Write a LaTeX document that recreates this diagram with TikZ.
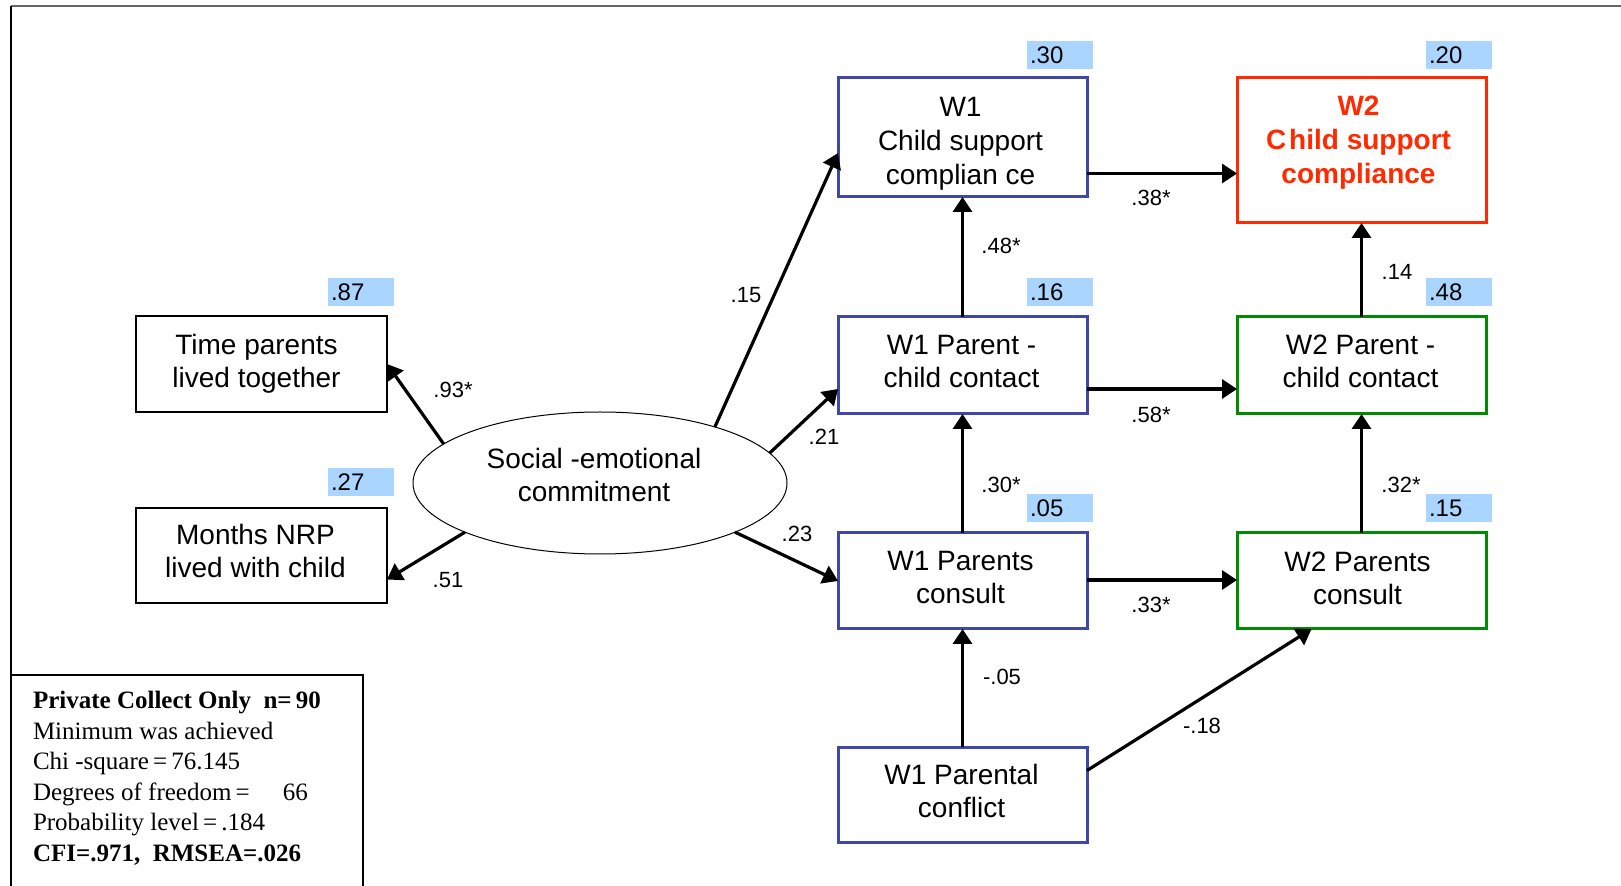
\documentclass[tikz,border=0pt]{standalone}
\usepackage{fontspec}
\setmainfont{Liberation Sans}
\newfontfamily\statfont{Liberation Serif}
\usetikzlibrary{arrows.meta,shapes.geometric,fit,calc}
\definecolor{boxblue}{HTML}{3F48A8}
\definecolor{boxred}{HTML}{FF2A00}
\definecolor{boxgreen}{HTML}{008C00}
\definecolor{rfill}{HTML}{A9D5FF}
\definecolor{framegrey}{HTML}{666666}
\begin{document}
\begin{tikzpicture}[x=0.5pt,y=-0.5pt,
  every node/.style={inner sep=0pt,outer sep=0pt},
  box/.style={draw,line width=0.7pt},
  wone/.style={box,draw=boxblue,line width=1.5pt},
  wtwo/.style={box,draw=boxgreen,line width=1.5pt},
  wred/.style={box,draw=boxred,line width=1.5pt},
  btxt/.style={align=center,font=\fontsize{14}{16.5}\selectfont},
  rtxt/.style={align=center,text=boxred,font=\fontsize{14}{17}\selectfont\bfseries},
  rsq/.style={fill=rfill,anchor=west,text width=30pt,inner xsep=1.5pt,minimum height=14pt,align=left,font=\fontsize{12}{12}\selectfont},
  coef/.style={font=\fontsize{11}{11}\selectfont},
  arr/.style={line width=1.6pt,-{Triangle[length=7.5pt,width=9.5pt]}},
  stat/.style={anchor=base west,font=\statfont\fontsize{12.5}{12.5}\selectfont}
]
\useasboundingbox (0,0) rectangle (1621,886);
% frame
\draw[framegrey,line width=1pt] (11,6) -- (1621,6);
\draw[line width=0.9pt] (11,6) -- (11,675);
\draw[line width=0.7pt] (11,886) -- (11,675) -- (363,675) -- (363,886);

% boxes
\node[box,fit={(136,316) (387,412)}] (tp) {};
\node[btxt] (tpt) at ($(tp.center)+(-5,0)$) {Time parents\\lived together};
\node[box,fit={(136,508) (387,603)}] (mn) {};
\node[btxt] (mnt) at ($(mn.center)+(-6,-5)$) {Months NRP\\lived with child};
\node[ellipse,draw,line width=0.5pt,minimum width=187pt,minimum height=71pt] (sec) at (600,483) {};
\node[btxt] (sect) at ($(sec.center)+(-6,-8)$) {Social -emotional\\commitment};

\node[wone,fit={(838,78) (1087,197)}] (csc1) {};
\node[btxt,font=\fontsize{14}{17}\selectfont] (csc1t) at ($(csc1.center)+(-2,6)$) {W1\\Child support\\complian ce};
\node[wone,fit={(838,317) (1087,414)}] (pcc1) {};
\node[btxt] (pcc1t) at ($(pcc1.center)+(-1,-4)$) {W1 Parent -\\child contact};
\node[wone,fit={(838,533) (1087,629)}] (con1) {};
\node[btxt] (con1t) at ($(con1.center)+(-2,-3)$) {W1 Parents\\consult};
\node[wone,fit={(838,747) (1087,842)}] (cfl1) {};
\node[btxt] (cfl1t) at ($(cfl1.center)+(-1,-4)$) {W1 Parental\\conflict};

\node[wred,fit={(1237,78) (1486,223)}] (csc2) {};
\node[rtxt] (csc2t) at ($(csc2.center)+(-3,-8)$) {W2\\C\kern1.5pt hild support\\compliance};
\node[wtwo,fit={(1237,317) (1486,414)}] (pcc2) {};
\node[btxt] (pcc2t) at ($(pcc2.center)+(-1,-4)$) {W2 Parent -\\child contact};
\node[wtwo,fit={(1237,533) (1486,629)}] (con2) {};
\node[btxt] (con2t) at ($(con2.center)+(-4,-3)$) {W2 Parents\\consult};

% R-squared labels
\node[rsq] (r1) at (1027,55) {.30};
\node[rsq] (r2) at (1426,55) {.20};
\node[rsq] (r3) at (328,292) {.87};
\node[rsq] (r4) at (1027,292) {.16};
\node[rsq] (r5) at (1426,292) {.48};
\node[rsq] (r6) at (328,482) {.27};
\node[rsq] (r7) at (1027,508) {.05};
\node[rsq] (r8) at (1426,508) {.15};

% arrows
\draw[arr] (sec.166) -- (tp.east);
\draw[arr] (sec.200) -- ($(mn.east)+(0,24)$);
\draw[arr] (sec.26) -- ($(csc1.west)+(0,15.5)$);
\draw[arr] (sec.10) -- ($(pcc1.west)+(0,23.5)$);
\draw[arr] (sec.340) -- (con1.west);
\draw[arr] (pcc1.north) -- (csc1.south);
\draw[arr] (con1.north) -- (pcc1.south);
\draw[arr] (cfl1.north) -- (con1.south);
\draw[arr] ($(cfl1.east)+(0,-24)$) -- ($(con2.south)+(-50,0)$);
\coordinate (h1) at ($(csc1.east)+(0,36)$);
\draw[arr] (h1) -- (h1 -| csc2.west);
\coordinate (h2) at ($(pcc1.east)+(0,23.5)$);
\draw[arr] (h2) -- (h2 -| pcc2.west);
\coordinate (h3) at ($(con1.east)+(0,-1)$);
\draw[arr] (h3) -- (h3 -| con2.west);
\draw[arr] (pcc2.north) -- (csc2.south);
\draw[arr] (con2.north) -- (pcc2.south);

% coefficients
\node[coef] at (453,390) {.93*};
\node[coef] at (448,580) {.51};
\node[coef] at (746,295) {.15};
\node[coef] at (824,437) {.21};
\node[coef] at (797,534) {.23};
\node[coef] at (1001,246) {.48*};
\node[coef] at (1001,485) {.30*};
\node[coef] at (1002,677) {-.05};
\node[coef] at (1202,726) {-.18};
\node[coef] at (1151,198) {.38*};
\node[coef] at (1151,415) {.58*};
\node[coef] at (1151,605) {.33*};
\node[coef] at (1397,272) {.14};
\node[coef] at (1401,485) {.32*};

% stats
\node[stat] at (33,708) {\bfseries Private Collect Only\ \ n=\,90};
\node[stat] at (33,739) {Minimum was achieved};
\node[stat] at (33,769) {Chi -square\,=\,76.145};
\node[stat] at (33,800) {Degrees of freedom\,=\hspace{16.5pt}66};
\node[stat] at (33,830) {Probability level\,=\,.184};
\node[stat] at (33,861) {\bfseries CFI=.971,\ \ RMSEA=.026};
\end{tikzpicture}
\end{document}
